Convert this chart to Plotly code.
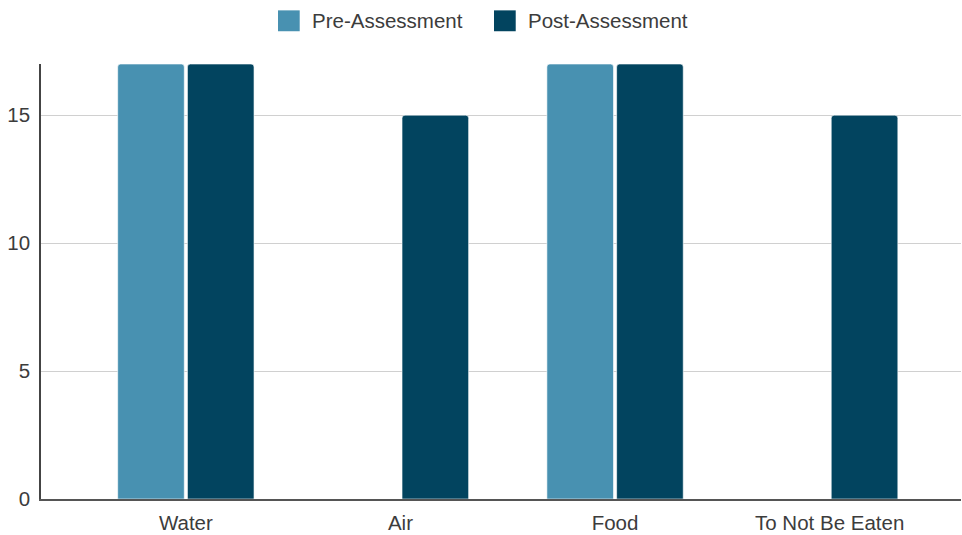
import plotly.graph_objects as go

categories = ["Water", "Air", "Food", "To Not Be Eaten"]
pre_assessment = [17, 0, 17, 0]
post_assessment = [17, 15, 17, 15]
series_names = ["Pre-Assessment", "Post-Assessment"]
series_colors = ["#4891b1", "#02445f"]
y_ticks = [0, 5, 10, 15]

FONT = "Liberation Sans, Arial, sans-serif"
TEXT = "#3c3c3c"
FS = 20.5

fig = go.Figure()
for name, vals, col in zip(series_names, [pre_assessment, post_assessment], series_colors):
    fig.add_trace(go.Bar(
        x=categories, y=vals, name=name,
        marker=dict(color=col, line=dict(color="white", width=0.6), cornerradius=3),
        showlegend=False,
    ))

# legend drawn as paper-anchored squares and labels
legend_x = [0.2576, 0.4924]
for name, col, lx in zip(series_names, series_colors, legend_x):
    fig.add_shape(type="rect", xref="paper", yref="paper",
                  x0=lx, x1=lx + 0.0236, y0=1.0753, y1=1.1233,
                  fillcolor=col, line=dict(width=0))
    fig.add_annotation(xref="paper", yref="paper", x=lx + 0.0352, y=1.1005,
                       text=name, showarrow=False, xanchor="left", yanchor="middle",
                       font=dict(family=FONT, size=FS, color=TEXT))

fig.update_layout(
    width=962, height=535,
    margin=dict(l=41, r=1, t=64, b=33),
    paper_bgcolor="white", plot_bgcolor="white",
    barmode="group", bargap=0.35, bargroupgap=0.045,
    font=dict(family=FONT, size=FS, color=TEXT),
)
fig.update_xaxes(
    type="category", range=[-0.675, 3.612],
    showline=True, linecolor="#555555", linewidth=1.5,
    showgrid=False, ticks="outside", ticklen=5, tickcolor="rgba(0,0,0,0)",
    tickfont=dict(family=FONT, size=FS, color=TEXT),
)
fig.update_yaxes(
    range=[0, 17], tickvals=y_ticks,
    showline=True, linecolor="#444444", linewidth=1.5,
    showgrid=True, gridcolor="#d0d0d0", gridwidth=1,
    zeroline=False,
    ticks="outside", ticklen=5, tickcolor="rgba(0,0,0,0)",
    tickfont=dict(family=FONT, size=FS, color=TEXT),
)

fig.write_html("out.html")
